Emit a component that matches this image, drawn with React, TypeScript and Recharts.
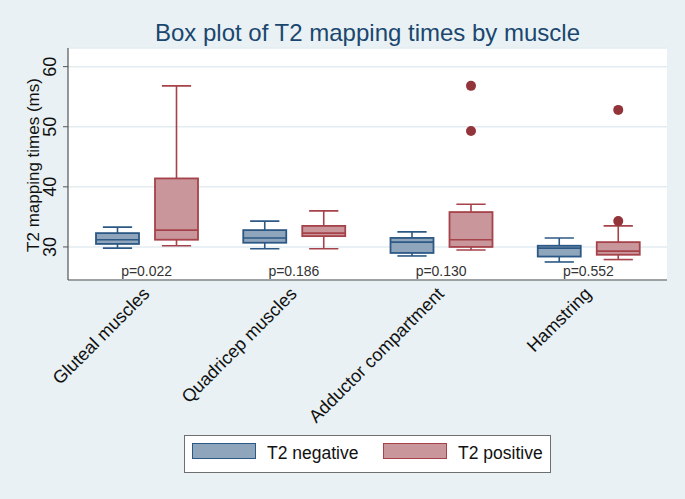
import React from 'react'
import { ComposedChart, Bar, XAxis, YAxis, CartesianGrid, Legend, Label } from 'recharts'

const muscles = ['Gluteal muscles', 'Quadricep muscles', 'Adductor compartment', 'Hamstring']
const pValues = ['p=0.022', 'p=0.186', 'p=0.130', 'p=0.552']

// [lower whisker, q1, median, q3, upper whisker]
const negStats = [
  [29.8, 30.5, 31.2, 32.3, 33.3],
  [29.7, 30.7, 31.5, 32.8, 34.3],
  [28.5, 29.0, 30.8, 31.5, 32.5],
  [27.5, 28.4, 29.8, 30.2, 31.5],
]
const posStats = [
  [30.2, 31.2, 32.8, 41.4, 56.8],
  [29.7, 31.8, 32.3, 33.5, 36.0],
  [29.5, 30.0, 31.2, 35.8, 37.1],
  [27.9, 28.7, 29.3, 30.8, 33.5],
]
const negOutliers: number[][] = [[], [], [], []]
const posOutliers: number[][] = [[], [], [56.8, 49.3], [52.8, 34.3]]
const yTicks = [30, 40, 50, 60]

const FONT = '"Liberation Sans", Arial, sans-serif'
const BG = '#e9f1f4'

const NEG = { fill: '#8fa5bc', stroke: '#2b5884' }
const POS = { fill: '#c8969b', stroke: '#a6424a' }
const DOT = '#93343b'

const data = muscles.map((name, i) => ({
  name,
  negBox: [negStats[i][1], negStats[i][3]],
  posBox: [posStats[i][1], posStats[i][3]],
  neg: negStats[i],
  pos: posStats[i],
  negOut: negOutliers[i],
  posOut: posOutliers[i],
}))

const makeBox = (key: 'neg' | 'pos', colors: { fill: string; stroke: string }) => (props: any) => {
  const { x, y, width, height, payload } = props
  const [lo, q1, med, q3, hi] = payload[key] as number[]
  const outs = (key === 'neg' ? payload.negOut : payload.posOut) as number[]
  const ppu = height / (q3 - q1)
  const toY = (v: number) => y + (q3 - v) * ppu
  const cx = x + width / 2
  const cap = width * 0.34
  return (
    <g>
      <line x1={cx} x2={cx} y1={toY(hi)} y2={y} stroke={colors.stroke} strokeWidth={1.6} />
      <line x1={cx} x2={cx} y1={y + height} y2={toY(lo)} stroke={colors.stroke} strokeWidth={1.6} />
      <line x1={cx - cap} x2={cx + cap} y1={toY(hi)} y2={toY(hi)} stroke={colors.stroke} strokeWidth={1.6} />
      <line x1={cx - cap} x2={cx + cap} y1={toY(lo)} y2={toY(lo)} stroke={colors.stroke} strokeWidth={1.6} />
      <rect x={x} y={y} width={width} height={height} fill={colors.fill} stroke={colors.stroke} strokeWidth={1.8} />
      <line x1={x} x2={x + width} y1={toY(med)} y2={toY(med)} stroke={colors.stroke} strokeWidth={1.6} />
      {outs.map((v, j) => (
        <circle key={j} cx={cx} cy={toY(v)} r={5} fill={DOT} />
      ))}
    </g>
  )
}

const CategoryTick = (props: any) => {
  const { x, y, payload } = props
  const i = muscles.indexOf(payload.value)
  return (
    <g>
      <text x={x} y={y - 4} textAnchor="middle" fontSize={14} fill="#333" fontFamily={FONT}>
        {pValues[i]}
      </text>
      <text
        transform={`translate(${x + 4},${y + 15}) rotate(-45)`}
        textAnchor="end"
        fontSize={18}
        fill="#111"
        fontFamily={FONT}
      >
        {payload.value}
      </text>
    </g>
  )
}

const ValueTick = (props: any) => {
  const { x, y, payload } = props
  return (
    <text
      transform={`translate(${x - 5},${y}) rotate(-90)`}
      textAnchor="middle"
      fontSize={18}
      fill="#111"
      fontFamily={FONT}
    >
      {payload.value}
    </text>
  )
}

const YTitle = (props: any) => {
  const { viewBox } = props
  return (
    <text
      transform={`translate(${viewBox.x + 31},${viewBox.y + viewBox.height / 2 + 1}) rotate(-90)`}
      textAnchor="middle"
      fontSize={17}
      fill="#111"
      fontFamily={FONT}
    >
      T2 mapping times (ms)
    </text>
  )
}

const LegendBox = () => (
  <div
    style={{
      position: 'relative',
      boxSizing: 'border-box',
      width: 367,
      height: 38,
      border: '1px solid #6f6f6f',
      background: '#fff',
      fontFamily: FONT,
      fontSize: 17.5,
      color: '#111',
    }}
  >
    <span style={{ position: 'absolute', left: 7, top: 7, width: 64, height: 16, boxSizing: 'border-box', background: NEG.fill, border: `1.5px solid ${NEG.stroke}` }} />
    <span style={{ position: 'absolute', left: 82, top: 6, lineHeight: '22px' }}>T2 negative</span>
    <span style={{ position: 'absolute', left: 198, top: 7, width: 64, height: 16, boxSizing: 'border-box', background: POS.fill, border: `1.5px solid ${POS.stroke}` }} />
    <span style={{ position: 'absolute', left: 273, top: 6, lineHeight: '22px' }}>T2 positive</span>
  </div>
)

export default function App() {
  return (
    <div style={{ position: 'absolute', left: 0, top: 0, width: 685, height: 499, background: BG }}>
      <div
        style={{
          position: 'absolute',
          left: 68,
          width: 599,
          top: 19,
          textAlign: 'center',
          fontFamily: FONT,
          fontSize: 24,
          color: '#1a476f',
          zIndex: 1,
        }}
      >
        Box plot of T2 mapping times by muscle
      </div>
      <ComposedChart
        width={685}
        height={499}
        data={data}
        margin={{ top: 48, right: 18, bottom: 19, left: 8 }}
        barGap={16}
      >
        <CartesianGrid vertical={false} fill="#ffffff" stroke="#e3ecf0" strokeWidth={1.5} />
        <XAxis
          dataKey="name"
          height={200}
          padding={{ left: 5, right: 5 }}
          tickLine={false}
          tickSize={0}
          tickMargin={0}
          axisLine={{ stroke: '#555', strokeWidth: 1.2 }}
          tick={<CategoryTick />}
          interval={0}
        />
        <YAxis
          width={60}
          type="number"
          domain={[24.5, 63.1]}
          ticks={yTicks}
          allowDataOverflow
          tickSize={5}
          tickMargin={2}
          tickLine={{ stroke: '#555' }}
          axisLine={{ stroke: '#555', strokeWidth: 1.2 }}
          tick={<ValueTick />}
        >
          <Label content={<YTitle />} />
        </YAxis>
        <Bar dataKey="negBox" name="T2 negative" barSize={43} shape={makeBox('neg', NEG)} isAnimationActive={false} />
        <Bar dataKey="posBox" name="T2 positive" barSize={43} shape={makeBox('pos', POS)} isAnimationActive={false} />
        <Legend
          layout="horizontal"
          verticalAlign="middle"
          align="center"
          content={<LegendBox />}
          wrapperStyle={{ position: 'absolute', left: 184, top: 435, width: 367, height: 38 }}
        />
      </ComposedChart>
    </div>
  )
}
